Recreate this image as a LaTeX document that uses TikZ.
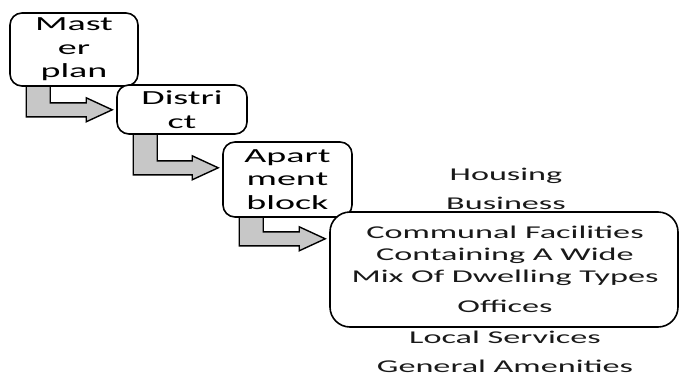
\documentclass[tikz,border=0pt]{standalone}
\usepackage{fontspec}
\setmainfont{Carlito}[FakeStretch=1.9]
\usetikzlibrary{calc}
\usetikzlibrary{backgrounds}

% bent step arrow from the bottom of one box to the left side of the next
\newcommand{\bentarrow}[3]{%
  \coordinate (ax) at ($(#1.south west)+(17,#3)$);
  \coordinate (hd) at (#2.west |- ax);
  \filldraw[bentfill] ($(#1.south west)+(17,-6)$) -- ($(ax)+(0,7)$) -- ($(hd)+(-30,7)$)
    -- ($(hd)+(-30,12)$) -- ($(hd)+(-4,0)$) -- ($(hd)+(-30,-12)$) -- ($(hd)+(-30,-7)$)
    -- ($(ax)+(24,-7)$) -- ($(#1.south west)+(41,-6)$) -- cycle;
}

\begin{document}
\begin{tikzpicture}[x=1pt,y=-1pt,
    stepbox/.style={draw,line width=1.6pt,fill=white,rounded corners=12pt,align=center,
      inner sep=0pt,font=\fontsize{20}{23.5}\selectfont},
    listtext/.style={anchor=base,font=\fontsize{18}{22}\selectfont,text=black!90},
    bentfill/.style={fill=black!22,draw=black,line width=1.4pt,line join=miter}]
        \useasboundingbox (0,0) rectangle (680,375);
        \node[stepbox,minimum width=128,minimum height=73] (mplan) at (74,49.5) {Mast\\er\\plan};
        \node[stepbox,minimum width=130,minimum height=49] (dist) at (182,109.5) {Distri\\ct};
        \node[stepbox,minimum width=129,minimum height=75] (apblock) at (287.5,179.5) {Apart\\ment\\block};
        \node[stepbox,rounded corners=20pt,minimum width=348,minimum height=115] (uses) at (504,269.5) {};
        \begin{scope}[on background layer]
            \bentarrow{mplan}{dist}{23}
            \bentarrow{dist}{apblock}{33}
            \bentarrow{apblock}{uses}{21}
        \end{scope}
        % list of uses
        \node[listtext] (hous) at (506,180) {Housing};
        \node[listtext] (busi) at (506,209) {Business};
        \node[listtext,align=center] (comm) at (505,282) {Communal Facilities\\Containing A Wide\\Mix Of Dwelling Types};
        \node[listtext] (offi) at (505,312) {Offices};
        \node[listtext] (locs) at (505,343) {Local Services};
        \node[listtext] (amen) at (505,372) {General Amenities};
    \end{tikzpicture}
\end{document}
